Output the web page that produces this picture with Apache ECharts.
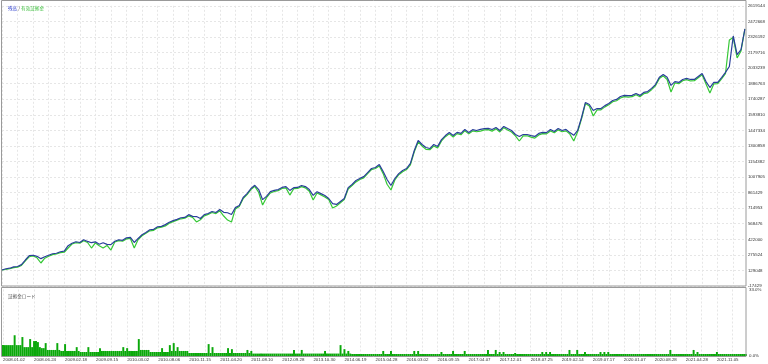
<!DOCTYPE html>
<html><head><meta charset="utf-8">
<script src="https://cdn.jsdelivr.net/npm/echarts@6/dist/echarts.min.js"></script>
<style>html,body{margin:0;padding:0;background:#fff}#c{width:768px;height:364px}</style>
</head><body><div id="c"></div>
<script>
// Balance (残高), thousands of yen, by trade step
const balanceK = [133,145,150,163,166,184,227,268,272,262,
240,258,272,286,291,305,310,362,385,399,
392,418,402,390,398,375,390,374,372,404,
418,412,436,440,392,430,465,487,512,516,
540,544,560,582,598,610,625,628,654,638,
636,618,654,665,684,674,702,676,672,656,
720,740,815,852,900,930,890,795,826,870,
882,890,910,918,882,908,910,928,918,890,
835,870,852,834,806,758,750,778,806,908,
938,975,995,1012,1050,1088,1098,1125,1060,985,
928,994,1040,1070,1088,1136,1258,1352,1314,1286,
1276,1314,1296,1360,1398,1426,1398,1428,1418,1455,
1426,1454,1446,1456,1464,1466,1455,1474,1446,1484,
1464,1446,1408,1390,1408,1408,1398,1390,1418,1428,
1426,1455,1436,1465,1446,1456,1426,1400,1446,1568,
1710,1690,1634,1652,1652,1680,1700,1728,1738,1766,
1776,1774,1776,1794,1776,1804,1812,1842,1878,1946,
1972,1946,1870,1906,1898,1926,1936,1926,1926,1954,
1982,1906,1850,1898,1898,1944,1992,2048,2335,2160,
2208,2401];
// Equity (有効証拠金), thousands of yen
const equityK = [133,138,145,155,160,176,220,258,265,248,
199,244,262,278,284,296,300,340,378,390,
386,408,392,340,388,362,340,364,321,396,
410,404,426,430,340,420,455,478,502,506,
530,536,548,574,588,602,615,620,642,628,
585,606,642,656,674,664,690,641,603,585,
708,730,804,842,890,920,862,744,814,858,
872,880,900,906,838,898,900,918,906,874,
791,858,840,820,796,716,735,766,796,896,
928,962,985,1000,1040,1078,1088,1112,1040,940,
886,980,1030,1058,1078,1122,1246,1338,1300,1268,
1265,1300,1282,1348,1388,1414,1385,1416,1406,1444,
1414,1442,1434,1440,1452,1454,1440,1462,1432,1472,
1450,1432,1395,1347,1396,1396,1384,1374,1404,1416,
1414,1442,1424,1452,1434,1442,1412,1347,1434,1555,
1700,1676,1582,1640,1640,1668,1688,1716,1726,1752,
1765,1760,1764,1782,1764,1792,1800,1830,1866,1934,
1960,1926,1808,1894,1886,1914,1924,1912,1914,1942,
1970,1884,1798,1884,1886,1932,1980,2297,2320,2128,
2195,2401];
// Margin load (証拠金ロード), percent, two samples per trade step
const marginLoad = [5.4,5.4,5.4,5.4,5.4,5.4,10.3,5.4,5.4,5.4,9.4,4.4,4.4,4.4,8.4,4.4,7.4,7.4,6.9,4.4,
3.9,3.9,6.4,3.0,3.0,3.0,3.0,3.0,6.4,3.0,2.5,2.5,5.9,2.5,2.5,2.5,2.5,2.5,4.4,2.5,
2.0,2.0,2.0,2.0,4.4,2.0,2.0,2.0,2.0,2.0,3.9,2.5,2.5,2.5,2.5,2.5,2.5,2.5,2.5,2.5,
2.5,2.5,4.4,2.5,3.9,2.5,2.5,2.5,2.5,2.5,8.4,3.0,3.0,3.0,3.0,3.0,2.0,2.0,2.0,2.0,
2.0,2.0,3.9,2.0,2.0,2.0,5.4,2.5,6.4,2.5,4.4,2.5,2.5,2.5,2.5,2.5,1.5,1.5,1.5,1.5,
1.5,1.5,1.5,1.5,1.5,1.5,5.9,1.5,4.4,1.5,1.5,1.5,1.5,1.5,1.5,1.5,3.9,1.5,3.4,1.5,
1.5,1.5,1.5,1.5,1.5,1.5,3.0,1.5,2.5,1.2,1.2,1.2,1.2,1.2,1.2,1.2,1.2,1.2,1.2,1.2,
1.2,1.2,1.2,1.2,1.2,1.2,1.2,1.2,1.2,1.2,3.0,1.2,1.2,1.2,3.0,1.2,1.2,1.2,1.2,1.2,
1.2,1.2,1.2,1.2,1.2,1.2,2.5,1.2,1.2,1.2,1.2,1.2,1.2,1.2,5.4,1.2,3.4,1.2,2.5,1.2,
1.0,1.0,1.0,1.0,1.0,1.0,1.0,1.0,1.0,1.0,1.0,1.0,1.0,1.0,1.0,1.0,2.5,1.0,1.0,1.0,
2.5,1.0,1.0,1.0,1.0,1.0,1.0,1.0,1.0,1.0,1.0,1.0,2.5,1.0,2.5,1.0,1.0,1.0,1.0,1.0,
1.0,1.0,1.0,1.0,1.0,1.0,2.0,1.0,1.0,1.0,1.0,1.0,2.5,1.0,1.0,1.0,1.0,1.0,2.5,1.0,
1.0,1.0,1.0,1.0,1.0,1.0,1.0,1.0,1.0,1.0,3.0,1.0,1.0,1.0,3.0,1.0,2.0,1.0,2.0,1.0,
1.0,1.0,1.0,1.0,1.5,1.0,1.0,1.0,1.0,1.0,1.0,1.0,1.0,1.0,1.0,1.0,1.0,1.0,2.0,1.0,
2.0,1.0,2.0,1.0,1.0,1.0,1.0,1.0,1.0,1.0,1.0,1.0,3.0,1.0,1.0,1.0,3.0,1.0,1.0,1.0,
2.0,1.0,1.0,1.0,1.0,1.0,1.0,1.0,2.0,1.0,2.0,1.0,2.0,1.0,1.0,1.0,1.0,1.0,1.0,1.0,
1.0,1.0,1.0,1.0,1.0,1.0,1.0,1.0,1.0,1.0,1.0,1.0,1.0,1.0,1.0,1.0,1.0,1.0,1.0,1.0,
1.0,1.0,1.0,1.0,3.0,1.0,1.0,1.0,1.0,1.0,1.0,1.0,1.0,1.0,1.0,1.0,3.0,1.0,2.0,1.0,
1.0,1.0,1.0,1.0,1.0,1.0,1.0,1.0,2.0,1.0,1.0,1.0,1.0,1.0,1.0,1.0,1.0,1.0,1.0,1.0,
1.0,1.0,1.0,1.0];
const dateLabels = ['2008.01.02','2008.06.24','2009.02.18','2009.09.15','2010.03.02','2010.08.06','2010.11.15','2011.04.20','2011.08.10','2012.09.28','2013.10.30','2014.06.19','2015.04.28','2016.03.02','2016.09.15','2017.04.07','2017.12.01','2018.07.25','2019.02.14','2019.07.17','2020.01.07','2020.08.28','2021.04.28','2021.11.05'];
const yTickLabels = ['-17429','129048','275524','422000','568476','714953','861429','1007905','1154382','1300858','1447334','1593810','1740287','1886763','2033239','2179716','2326192','2472668','2619144'];
const loadTicks = [0, 33];

const Y_MIN = -17429, Y_MAX = 2619144;
const RANGE = Y_MAX - Y_MIN;
const STEP = RANGE / (yTickLabels.length - 1);
const cats = balanceK.map((_, i) => String(i));
const loadCats = marginLoad.map((_, i) => String(i));
const GRID_EVERY = 4;                                   // main steps per grid cell
const LOAD_RATIO = marginLoad.length / balanceK.length;  // 2
const LABEL_EVERY = GRID_EVERY * 2 * LOAD_RATIO;         // load steps per date label

const numFont = 'Liberation Sans';
const cjkFont = 'Noto Sans CJK JP';
const dashStyle = { color: '#e6e6e6', type: [2, 2], width: 1 };

const chart = echarts.init(document.getElementById('c'), null, { renderer: 'canvas' });
chart.setOption({
  animation: false,
  backgroundColor: '#ffffff',
  title: [
    { text: '{b|残高} / {g|有効証拠金}', left: 3, top: 1,
      textStyle: { fontSize: 4.6, fontWeight: 'normal', color: '#333', fontFamily: cjkFont,
        rich: { b: { color: '#3a4ad0', fontSize: 4.6, fontFamily: cjkFont }, g: { color: '#3cbf3c', fontSize: 4.6, fontFamily: cjkFont } } } },
    { text: '証拠金ロード', left: 3, top: 289,
      textStyle: { fontSize: 4.6, fontWeight: 'normal', color: '#555', fontFamily: cjkFont } }
  ],
  grid: [
    { left: 2, right: 22, top: 5.8, bottom: 78 },
    { left: 2, right: 22, top: 289.5, bottom: 8 }
  ],
  xAxis: [
    { type: 'category', gridIndex: 0, data: cats, boundaryGap: false,
      axisLine: { show: false }, axisTick: { show: false }, axisLabel: { show: false },
      splitLine: { show: true, interval: GRID_EVERY - 1, lineStyle: dashStyle } },
    { type: 'category', gridIndex: 1, data: loadCats, boundaryGap: false,
      axisLine: { show: false }, axisTick: { show: false },
      axisLabel: { show: true, interval: LABEL_EVERY - 1, align: 'left', margin: 2,
        fontSize: 4.4, color: '#333', fontFamily: numFont,
        formatter: (v, idx) => dateLabels[Math.round(idx / LABEL_EVERY)] || '' },
      splitLine: { show: true, interval: GRID_EVERY * LOAD_RATIO - 1, lineStyle: dashStyle } }
  ],
  yAxis: [
    { type: 'value', gridIndex: 0, position: 'right', min: 0, max: RANGE, interval: STEP,
      axisLine: { show: false }, axisTick: { show: false },
      axisLabel: { margin: 3, fontSize: 4.4, color: '#333', fontFamily: numFont,
        formatter: v => yTickLabels[Math.round(v / STEP)] },
      splitLine: { show: true, lineStyle: dashStyle } },
    { type: 'value', gridIndex: 1, position: 'right', min: loadTicks[0], max: loadTicks[1], interval: loadTicks[1],
      axisLine: { show: false }, axisTick: { show: false },
      axisLabel: { margin: 3, fontSize: 4.4, color: '#333', fontFamily: numFont,
        formatter: v => v.toFixed(1) + '%' },
      splitLine: { show: false } }
  ],
  series: [
    { name: '有効証拠金', type: 'line', xAxisIndex: 0, yAxisIndex: 0,
      data: equityK.map(v => v * 1000 - Y_MIN), showSymbol: false,
      lineStyle: { color: '#36c836', width: 1.2 }, z: 2 },
    { name: '残高', type: 'line', xAxisIndex: 0, yAxisIndex: 0,
      data: balanceK.map(v => v * 1000 - Y_MIN), showSymbol: false,
      lineStyle: { color: '#2a3f9a', width: 1.2 }, z: 3 },
    { name: '証拠金ロード', type: 'bar', xAxisIndex: 1, yAxisIndex: 1,
      data: marginLoad, barCategoryGap: '0%', itemStyle: { color: '#0aa80a' } }
  ],
  graphic: [
    { type: 'rect', shape: { x: 1.5, y: 0.5, width: 744.5, height: 285.5 }, silent: true,
      style: { fill: null, stroke: '#9a9a9a', lineWidth: 1 }, z: 100 },
    { type: 'rect', shape: { x: 1.5, y: 287.5, width: 744.5, height: 69 }, silent: true,
      style: { fill: null, stroke: '#9a9a9a', lineWidth: 1 }, z: 100 }
  ]
});
</script></body></html>
